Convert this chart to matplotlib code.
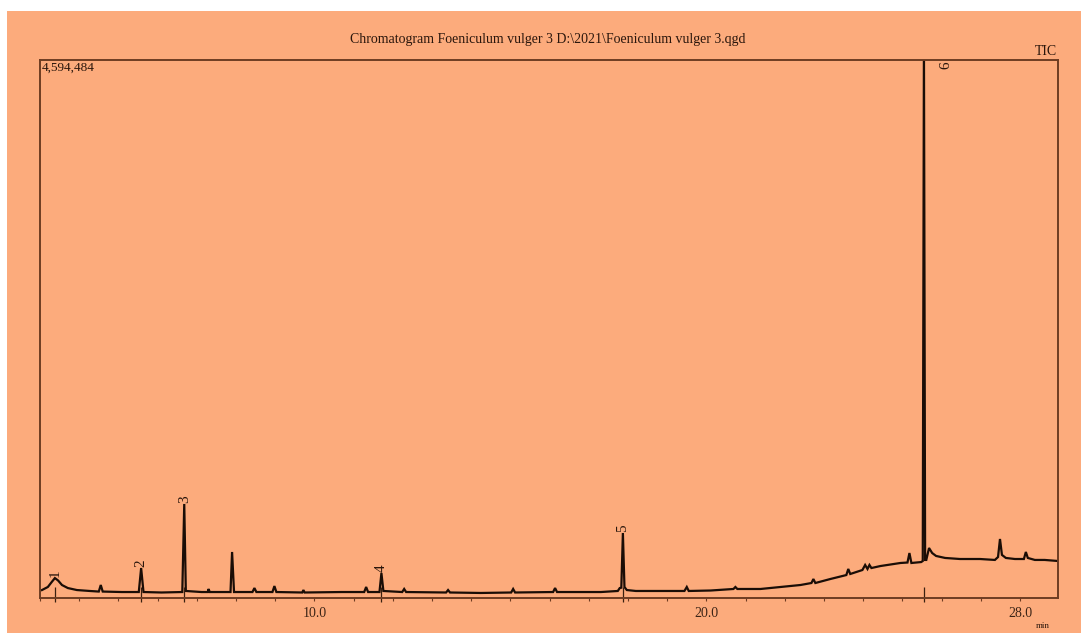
import numpy as np
import matplotlib
matplotlib.use("Agg")
import matplotlib.pyplot as plt
from matplotlib.patches import Rectangle
import matplotlib.transforms as mtransforms

# trace points (retention time in min, intensity in counts)
rt = [3.05, 3.20, 3.30, 3.38, 3.46, 3.56, 3.71, 3.94, 4.27, 4.50, 4.55, 4.60,
      5.09, 5.52, 5.58, 5.64, 6.10, 6.63, 6.68, 6.72, 7.12, 7.28, 7.30, 7.33,
      7.86, 7.90, 7.95, 8.42, 8.47, 8.52, 8.93, 8.98, 9.03, 9.69, 9.72, 9.75,
      10.69, 11.27, 11.32, 11.37, 11.66, 11.71, 11.76, 12.24, 12.29, 12.34,
      13.36, 13.41, 13.46, 14.25, 15.02, 15.07, 15.12, 16.09, 16.14, 16.19,
      17.31, 17.74, 17.79, 17.83, 17.87, 17.91, 17.97, 18.20, 18.83, 19.44,
      19.50, 19.55, 20.11, 20.69, 20.74, 20.79, 21.38, 21.89, 22.40, 22.68,
      22.73, 22.78, 23.16, 23.57, 23.62, 23.67, 23.98, 24.05, 24.11, 24.16,
      24.21, 24.44, 24.95, 25.13, 25.18, 25.23, 25.48, 25.52, 25.55, 25.58,
      25.61, 25.68, 25.76, 25.86, 26.09, 26.47, 26.98, 27.36, 27.44, 27.49,
      27.54, 27.64, 27.87, 28.10, 28.15, 28.20, 28.38, 28.63, 28.97]
intensity = [68e3, 94e3, 137e3, 170e3, 150e3, 111e3, 85e3, 68e3, 60e3, 55e3, 111e3, 55e3,
             51e3, 51e3, 256e3, 51e3, 47e3, 51e3, 803e3, 60e3, 51e3, 51e3, 77e3, 51e3,
             51e3, 393e3, 51e3, 51e3, 85e3, 51e3, 51e3, 102e3, 51e3, 47e3, 68e3, 47e3,
             51e3, 51e3, 94e3, 51e3, 51e3, 213e3, 60e3, 51e3, 77e3, 51e3,
             47e3, 68e3, 47e3, 43e3, 47e3, 77e3, 47e3, 51e3, 85e3, 51e3,
             51e3, 60e3, 85e3, 88e3, 555e3, 94e3, 68e3, 60e3, 60e3, 60e3,
             94e3, 60e3, 64e3, 77e3, 94e3, 77e3, 77e3, 94e3, 111e3, 128e3,
             162e3, 128e3, 162e3, 196e3, 248e3, 205e3, 239e3, 282e3, 248e3, 282e3,
             256e3, 273e3, 299e3, 303e3, 384e3, 299e3, 307e3, 316e3, 4.75e6, 325e3,
             325e3, 427e3, 384e3, 359e3, 342e3, 333e3, 333e3, 325e3, 350e3, 504e3,
             368e3, 342e3, 333e3, 333e3, 393e3, 342e3, 325e3, 325e3, 316e3]

# labelled peaks
peak_ids = ["1", "2", "3", "4", "5", "6"]
peak_rt = [3.38, 5.58, 6.68, 11.71, 17.87, 25.55]
peak_top = [170e3, 256e3, 803e3, 213e3, 555e3, 4.75e6]

tick_pos = list(range(3, 29))
tick_text = {10: "10.0", 20: "20.0", 28: "28.0"}

y_max = 4594484
bg = "#fcab7c"
edge = "#6e3c22"
ink = "#2a160c"
serif = ["Liberation Serif", "DejaVu Serif"]

fig = plt.figure(figsize=(10.81, 6.33), dpi=100, facecolor="white")
fig.patches.append(Rectangle((7 / 1081, 0), 1, 1 - 11 / 633, transform=fig.transFigure,
                             facecolor=bg, edgecolor="none", zorder=-10))

ax = fig.add_axes([40 / 1081, 35 / 633, 1018 / 1081, 538 / 633])
ax.set_zorder(1)
ax.set_facecolor(bg)
ax.plot(rt, intensity, color="#1a0d06", lw=1.6, solid_joinstyle="miter")
ax.set_xlim(3.05, 28.97)
ax.set_ylim(0, y_max)

for s in ax.spines.values():
    s.set_color(edge)
    s.set_linewidth(1.4)

ax.set_yticks([])
ax.set_xticks(tick_pos)
ax.set_xticklabels([tick_text.get(t, "") for t in tick_pos], fontfamily=serif,
                   fontsize=10, color="#3c2416")
ax.tick_params(axis="x", direction="out", length=2.5, width=0.8, color=edge, pad=4)

# integration marks at the labelled peaks
trans = mtransforms.blended_transform_factory(ax.transData, ax.transAxes)
ax.vlines(peak_rt, -0.008, 0.02, transform=trans, color="#3a2010", lw=0.9, clip_on=False)

for pid, t, h in zip(peak_ids, peak_rt, peak_top):
    if h > y_max:
        ax.annotate(pid, (t, y_max), xytext=(16, -1), textcoords="offset points",
                    rotation=90, ha="center", va="top", fontsize=11, fontfamily=serif,
                    color=ink)
    else:
        ax.annotate(pid, (t, h), xytext=(0, 1), textcoords="offset points",
                    rotation=90, ha="center", va="bottom", fontsize=11, fontfamily=serif,
                    color=ink)

ax.text(0.002, 0.996, "4,594,484", transform=ax.transAxes, ha="left", va="top",
        fontsize=9.5, fontfamily=serif, color=ink)
ax.text(0.999, 1.003, "TIC", transform=ax.transAxes, ha="right", va="bottom",
        fontsize=10, fontfamily=serif, color=ink)
ax.text(0.992, -0.052, "min", transform=ax.transAxes, ha="right", va="center",
        fontsize=6.5, fontfamily=serif, color=ink)

fig.text(548 / 1081, 1 - 40 / 633,
         "Chromatogram Foeniculum vulger 3 D:\\2021\\Foeniculum vulger 3.qgd",
         ha="center", va="center", fontsize=10, fontfamily=serif, color=ink)

fig.savefig("out.png", dpi=100, facecolor="white")
